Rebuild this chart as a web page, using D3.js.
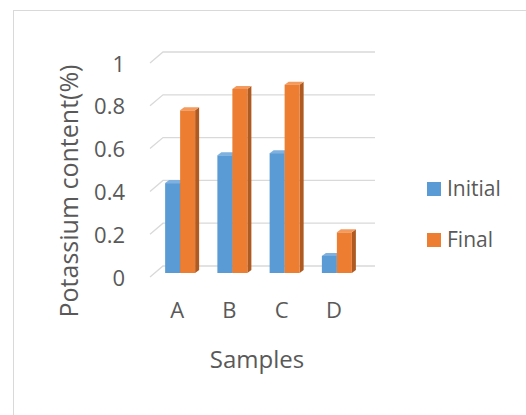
<!DOCTYPE html>
<html>
<head>
<meta charset="utf-8">
<script src="https://cdn.jsdelivr.net/npm/d3@7"></script>
<style>
  body { margin: 0; background: #fff; }
  text { font-family: "Open Sans", "Noto Sans", sans-serif; fill: #595959; }
</style>
</head>
<body>
<div class="chart"></div>
<script>
var svgWidth = 526;
var svgHeight = 415;

// data
var samples = ["A", "B", "C", "D"];
var initialValues = [0.42, 0.55, 0.56, 0.08];
var finalValues = [0.76, 0.86, 0.88, 0.19];
var yTicks = [0, 0.2, 0.4, 0.6, 0.8, 1];
var seriesNames = ["Initial", "Final"];

var colors = {
  Initial: { front: "#5b9bd5", side: "#41719c", top: "#7fb1e0" },
  Final: { front: "#ed7d31", side: "#ae5a21", top: "#f39a5e" }
};

// fake 3d: back wall is shifted from the front plane
var wallDx = 13, wallDy = -11;
var barDx = 5, barDy = -4;
var depthX = 4, depthY = 3;

var svg = d3.select(".chart")
  .append("svg")
  .attr("width", svgWidth)
  .attr("height", svgHeight);

// chart border
svg.append("rect")
  .attr("x", 13.5)
  .attr("y", 10.5)
  .attr("width", 540)
  .attr("height", 430)
  .attr("fill", "none")
  .attr("stroke", "#d9d9d9");

// front plane scales
var yScale = d3.scaleLinear().domain([0, 1]).range([277, 63]);
var xScale = d3.scaleBand().domain(samples).range([151, 360]);
var barWidth = 15;

// gridlines: diagonal on the floor side then along the back wall
var grid = svg.append("g");
yTicks.forEach(function(t) {
  var y = yScale(t);
  grid.append("path")
    .attr("d", `M150,${y} L${150 + wallDx},${y + wallDy} L375,${y + wallDy}`)
    .attr("fill", "none")
    .attr("stroke", "#d9d9d9")
    .attr("stroke-width", 1.3);
});

// y tick labels
var yAxis = d3.axisLeft(yScale).tickValues(yTicks).tickFormat(d3.format("")).tickSize(0).tickPadding(0);
var yAxisG = svg.append("g")
  .attr("transform", "translate(125,1)")
  .call(yAxis);
yAxisG.select(".domain").remove();
yAxisG.selectAll("text")
  .style("font-size", "22px")
  .attr("fill", "#595959");

// x tick labels
var xAxis = d3.axisBottom(xScale).tickSize(0).tickPadding(0);
var xAxisG = svg.append("g")
  .attr("transform", "translate(0,302)")
  .call(xAxis);
xAxisG.select(".domain").remove();
xAxisG.selectAll("text")
  .style("font-size", "22px")
  .attr("fill", "#595959");

// bars
var rows = [];
samples.forEach(function(s, i) {
  rows.push({ sample: s, series: "Initial", value: initialValues[i], k: 0 });
  rows.push({ sample: s, series: "Final", value: finalValues[i], k: 1 });
});

var base = yScale(0) + barDy;
var barGroup = svg.append("g")
  .selectAll("g")
  .data(rows)
  .enter()
  .append("g");

barGroup.each(function(d) {
  var g = d3.select(this);
  var x0 = xScale(d.sample) + xScale.bandwidth() / 2 - barWidth + d.k * barWidth + barDx - 2;
  var x1 = x0 + barWidth;
  var yTop = yScale(d.value) + barDy;
  var c = colors[d.series];
  // side face
  g.append("path")
    .attr("d", `M${x1},${base} L${x1},${yTop} L${x1 + depthX},${yTop - depthY} L${x1 + depthX},${base - depthY} Z`)
    .attr("fill", c.side);
  // top face
  g.append("path")
    .attr("d", `M${x0},${yTop} L${x0 + depthX},${yTop - depthY} L${x1 + depthX},${yTop - depthY} L${x1},${yTop} Z`)
    .attr("fill", c.top);
  // front face
  g.append("rect")
    .attr("x", x0)
    .attr("y", yTop)
    .attr("width", barWidth)
    .attr("height", base - yTop)
    .attr("fill", c.front);
});

// axis titles
svg.append("text")
  .attr("transform", "translate(78,191) rotate(-90)")
  .attr("text-anchor", "middle")
  .style("font-size", "25px")
  .text("Potassium content(%)");

svg.append("text")
  .attr("x", 257)
  .attr("y", 368)
  .attr("text-anchor", "middle")
  .style("font-size", "24px")
  .text("Samples");

// legend
var legend = svg.append("g")
  .selectAll("g")
  .data(seriesNames)
  .enter()
  .append("g")
  .attr("transform", (d, i) => `translate(427,${182 + i * 51})`);

legend.append("rect")
  .attr("width", 14)
  .attr("height", 14)
  .attr("fill", d => colors[d].front);

legend.append("text")
  .attr("x", 20)
  .attr("y", 7)
  .attr("dy", "0.35em")
  .style("font-size", "21px")
  .text(d => d);
</script>
</body>
</html>
